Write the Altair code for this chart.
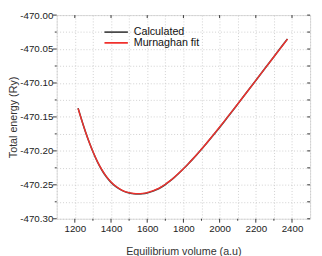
import altair as alt
import pandas as pd

volumes = [1218, 1240, 1263, 1280, 1300, 1325, 1350, 1375, 1400, 1425, 1450, 1475,
           1500, 1525, 1550, 1575, 1600, 1625, 1650, 1675, 1700, 1725, 1750, 1775,
           1800, 1825, 1850, 1875, 1900, 1925, 1950, 1975, 2000, 2025, 2050, 2075,
           2100, 2150, 2200, 2250, 2300, 2350, 2375]
murnaghan = [-470.1375, -470.1565, -470.1750, -470.1875, -470.2010, -470.2158, -470.2280,
             -470.2380, -470.2458, -470.2518, -470.2563, -470.2595, -470.2615, -470.2627,
             -470.2630, -470.2626, -470.2614, -470.2594, -470.2567, -470.2533, -470.2491,
             -470.2442, -470.2387, -470.2327, -470.2263, -470.2195, -470.2124, -470.2050,
             -470.1973, -470.1895, -470.1814, -470.1732, -470.1649, -470.1565, -470.1480,
             -470.1395, -470.1309, -470.1136, -470.0962, -470.0788, -470.0614, -470.0440,
             -470.0353]
calculated = [-470.1370, -470.1563, -470.1752, -470.1878, -470.2013, -470.2162, -470.2285,
              -470.2386, -470.2464, -470.2524, -470.2568, -470.2600, -470.2619, -470.2631,
              -470.2634, -470.2630, -470.2619, -470.2600, -470.2573, -470.2539, -470.2496,
              -470.2446, -470.2390, -470.2329, -470.2264, -470.2196, -470.2125, -470.2052,
              -470.1976, -470.1899, -470.1819, -470.1737, -470.1654, -470.1570, -470.1484,
              -470.1398, -470.1311, -470.1137, -470.0963, -470.0788, -470.0613, -470.0438,
              -470.0350]

series_names = ["Calculated", "Murnaghan fit"]
series_colors = ["#4a4a4a", "#f0302c"]

x_ticks = [1100, 1200, 1300, 1400, 1500, 1600, 1700, 1800, 1900, 2000, 2100, 2200, 2300, 2400, 2500]
x_major = [1200, 1400, 1600, 1800, 2000, 2200, 2400]
x_minor = [1300, 1500, 1700, 1900, 2100, 2300]
y_ticks = [-470.300, -470.275, -470.250, -470.225, -470.200, -470.175, -470.150,
           -470.125, -470.100, -470.075, -470.050, -470.025, -470.000]
y_major = [-470.30, -470.25, -470.20, -470.15, -470.10, -470.05, -470.00]
y_minor = [-470.275, -470.225, -470.175, -470.125, -470.075, -470.025]

W, H = 260, 209
FONT = "Liberation Sans"
TICK = "#333"

df_calc = pd.DataFrame({"V": volumes, "E": calculated, "s": series_names[0]})
df_fit = pd.DataFrame({"V": volumes, "E": murnaghan, "s": series_names[1]})

x_scale = alt.Scale(domain=[1100, 2500], nice=False, zero=False)
y_scale = alt.Scale(domain=[-470.30, -470.00], nice=False, zero=False)
color_scale = alt.Scale(domain=series_names, range=series_colors)

x_axis = alt.Axis(
    values=x_ticks, format="d", grid=True, gridDash=[1, 2], gridColor="#c4c4c4", gridWidth=0.8,
    labelExpr="(datum.value % 200 == 0 && datum.value >= 1200 && datum.value <= 2400) ? datum.label : ''",
    labelOverlap=False, labelFlush=False, labelFont=FONT, labelFontSize=10, labelColor="#222",
    labelPadding=5, ticks=False, domain=False,
    title="Equilibrium volume (a.u)", titleFont=FONT, titleFontSize=11, titleFontWeight="normal",
    titleColor="#333", titlePadding=13,
)
y_axis = alt.Axis(
    values=y_ticks, format=".2f", grid=True, gridDash=[1, 2], gridColor="#c4c4c4", gridWidth=0.8,
    labelExpr="abs(datum.value * 20 - round(datum.value * 20)) < 0.001 ? replace(datum.label, '\u2212', '-') : ''",
    labelOverlap=False, labelFlush=False, labelFont=FONT, labelFontSize=10, labelColor="#222",
    labelPadding=4, ticks=False, domain=False,
    title="Total energy (Ry)", titleFont=FONT, titleFontSize=11, titleFontWeight="normal",
    titleColor="#333", titlePadding=1,
)

legend = alt.Legend(
    orient="none", legendX=48, legendY=12, title=None, symbolType="stroke",
    symbolSize=576, symbolStrokeWidth=2, labelFont=FONT, labelFontSize=11, labelColor="#111",
    labelOffset=5, rowPadding=-2, clipHeight=11, padding=0,
)

calc_line = alt.Chart(df_calc).mark_line(strokeWidth=1.6, interpolate="monotone").encode(
    x=alt.X("V:Q", scale=x_scale, axis=x_axis),
    y=alt.Y("E:Q", scale=y_scale, axis=y_axis),
    color=alt.Color("s:N", scale=color_scale, legend=legend),
)
fit_line = alt.Chart(df_fit).mark_line(strokeWidth=1.4, interpolate="monotone").encode(
    x=alt.X("V:Q", scale=x_scale, axis=x_axis),
    y=alt.Y("E:Q", scale=y_scale, axis=y_axis),
    color=alt.Color("s:N", scale=color_scale, legend=legend),
)


def xticks(vals, y0, y1):
    return alt.Chart(pd.DataFrame({"V": vals})).mark_rule(color=TICK, strokeWidth=1).encode(
        x=alt.X("V:Q", scale=x_scale, axis=x_axis),
        y=alt.value(y0), y2=alt.value(y1),
    )


def yticks(vals, x0, x1):
    return alt.Chart(pd.DataFrame({"E": vals})).mark_rule(color=TICK, strokeWidth=1).encode(
        y=alt.Y("E:Q", scale=y_scale, axis=y_axis),
        x=alt.value(x0), x2=alt.value(x1),
    )


tick_layers = [
    xticks(x_major, H, H + 4),
    xticks(x_minor, H, H + 2),
    xticks(x_major, 0, 3),
    yticks(y_major, 0, -4),
    yticks(y_minor, 0, -2),
    yticks(y_ticks, W, W - 3),
]

chart = alt.layer(calc_line, fit_line, *tick_layers).properties(
    width=W, height=H,
    autosize=alt.AutoSizeParams(type="none"),
    padding={"left": 50, "top": 4, "right": 4, "bottom": 38},
).configure_view(stroke="#333", strokeWidth=1.4).configure(background="white")

chart.save("out.html", embed_options={"renderer": "svg", "actions": False})
